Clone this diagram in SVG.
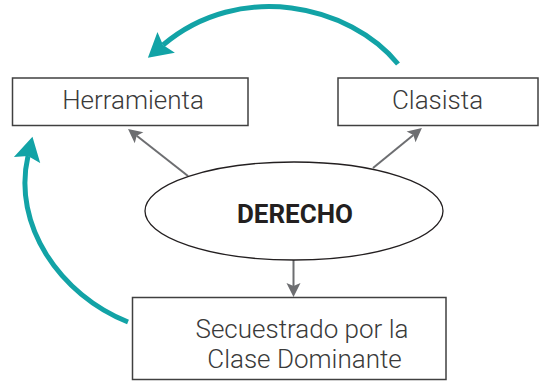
<svg xmlns="http://www.w3.org/2000/svg" width="539" height="381" viewBox="0 0 539 381">
  <style>
    .box { fill: #ffffff; stroke: #404040; stroke-width: 1.5; }
    .lbl { font-family: Roboto, "Liberation Sans", sans-serif; font-weight: 300; font-size: 26px; fill: #3a3a3a; text-anchor: middle; }
    .main { font-family: Roboto, "Liberation Sans", sans-serif; font-weight: 700; font-size: 26px; fill: #231f20; text-anchor: middle; }
    .ell { fill: #ffffff; stroke: #231f20; stroke-width: 1.3; }
    .gray { fill: none; stroke: #6d6e71; stroke-width: 2; marker-end: url(#ga); }
    .teal { fill: none; stroke: #12a3a6; stroke-width: 5; marker-end: url(#ta); }
  </style>
  <defs>
    <marker id="ga" markerUnits="userSpaceOnUse" markerWidth="16" markerHeight="16" viewBox="0 -8 15 16" refX="3" refY="0" orient="auto">
      <path d="M0,-7 L14,0 L0,7 L3,0 Z" fill="#6d6e71"/>
    </marker>
    <marker id="ta" markerUnits="userSpaceOnUse" markerWidth="26" markerHeight="30" viewBox="0 -14 25 28" refX="4" refY="0" orient="auto">
      <path d="M0,-13 L23,0 L0,13 L4,0 Z" fill="#12a3a6"/>
    </marker>
  </defs>

  <g id="connectors">
    <path class="gray" d="M188,176 L136.7,135.8"/>
    <path class="gray" d="M373,168 L413.4,134.9"/>
    <path class="gray" d="M293.5,260 L293.5,286"/>
    <path class="teal" d="M398,64 C350,5 240,-20 163,45"/>
    <path class="teal" d="M128,322 C60,295 12,225 28,156"/>
  </g>

  <g id="herramienta">
    <rect class="box" x="12.5" y="78" width="235.5" height="47.5"/>
    <text class="lbl" x="133" y="108.7">Herramienta</text>
  </g>

  <g id="clasista">
    <rect class="box" x="338" y="78" width="200" height="47.5"/>
    <text class="lbl" x="437.5" y="108.7">Clasista</text>
  </g>

  <g id="derecho">
    <ellipse class="ell" cx="294" cy="211" rx="149" ry="49"/>
    <text class="main" x="295" y="222.5">DERECHO</text>
  </g>

  <g id="secuestrado">
    <rect class="box" x="132.5" y="297.5" width="313.5" height="82"/>
    <text class="lbl" x="302" y="337.7">Secuestrado por la</text>
    <text class="lbl" x="304.5" y="368.3">Clase Dominante</text>
  </g>
</svg>
